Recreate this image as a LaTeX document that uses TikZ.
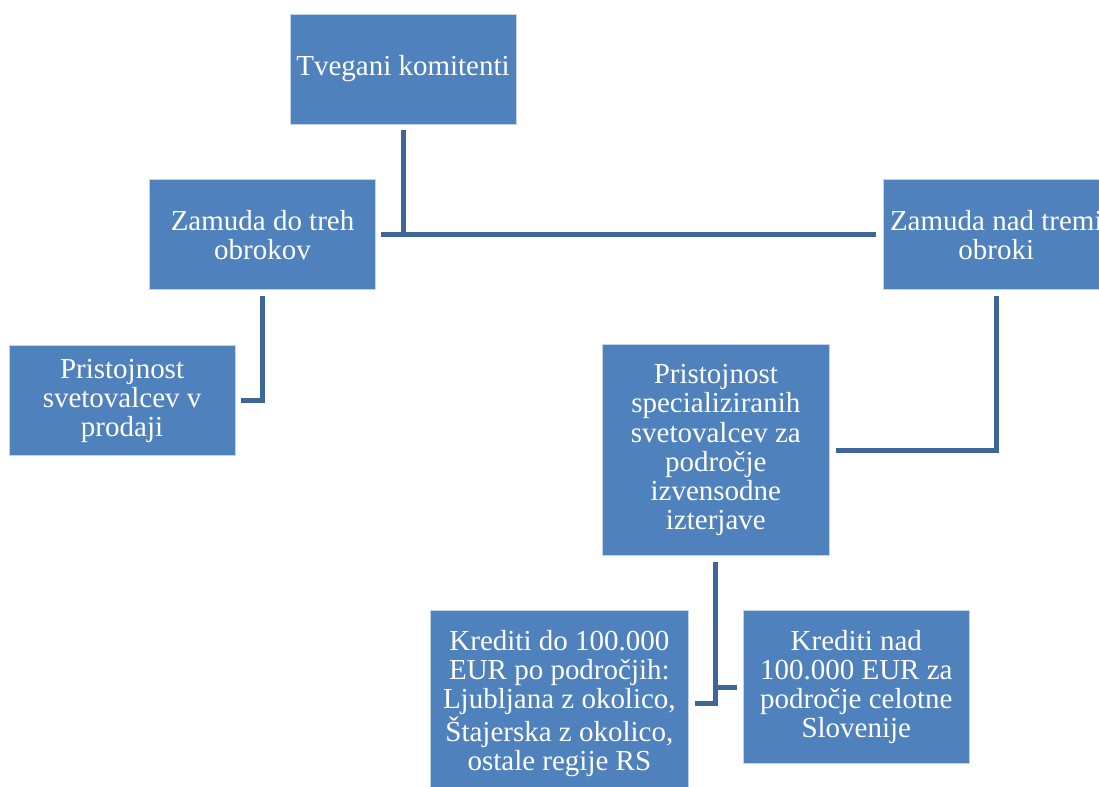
\documentclass[tikz,border=0pt]{standalone}
\usepackage{xcolor}
\usepackage{fontspec}
\setmainfont{Liberation Serif}
\usepackage{tikz}
\usetikzlibrary{positioning}
\definecolor{boxfill}{HTML}{4F81BD}
\definecolor{boxedge}{HTML}{C3D3E8}
\definecolor{connblue}{HTML}{3E6699}

\begin{document}
\begin{tikzpicture}[
  x=0.02cm, y=-0.02cm,
  box/.style={draw=boxedge, line width=0.5pt, fill=boxfill, text=white, minimum width=4.52cm, minimum height=2.2cm, inner sep=2pt, align=center, font=\fontsize{16.5}{16.6}\selectfont},
  conn/.style={line width=0.1cm, connblue}
]
  \useasboundingbox (0,0) rectangle (1099,787);
  \clip (0,0) rectangle (1099,787);

  \node[box] (top) at (403,69) {Tvegani komitenti};
  \node[box, below=1.1cm of top, xshift=-2.81cm] (zdo) {Zamuda do treh\\obrokov};
  \node[box, right=10.14cm of zdo] (znad) {Zamuda nad tremi\\obroki};
  \node[box, below=1.1cm of zdo, xshift=-2.81cm] (psv) {Pristojnost\\svetovalcev v\\prodaji};
  \node[box, minimum width=4.54cm, minimum height=4.22cm, below=1.08cm of znad, xshift=-5.61cm] (pss) {Pristojnost\\specializiranih\\svetovalcev za\\področje\\izvensodne\\izterjave};
  \node[box, minimum width=5.16cm, minimum height=3.72cm, below=1.08cm of pss, xshift=-3.13cm] (kdo) {Krediti do 100.000\\EUR po področjih:\\Ljubljana z okolico,\\Štajerska z okolico,\\ostale regije RS};
  \node[box, minimum height=3.06cm, below=1.08cm of pss, xshift=2.81cm] (knad) {Krediti nad\\100.000 EUR za\\področje celotne\\Slovenije};

  \draw[conn] ([xshift=0.1cm]zdo.east) -- ([xshift=-0.14cm]znad.west);
  \draw[conn] ([yshift=-0.12cm]top.south) -- ([yshift=-0.05cm]top.south |- zdo.east);
  \draw[conn] ([yshift=-0.12cm]zdo.south) |- ([xshift=0.12cm]psv.east);
  \draw[conn] ([yshift=-0.12cm]znad.south) |- ([xshift=0.12cm]pss.east);
  \draw[conn] ([yshift=-0.12cm]pss.south) |- ([xshift=0.12cm]kdo.east);
  \draw[conn] ([yshift=-0.12cm]pss.south) |- ([xshift=-0.12cm]knad.west);
\end{tikzpicture}
\end{document}
